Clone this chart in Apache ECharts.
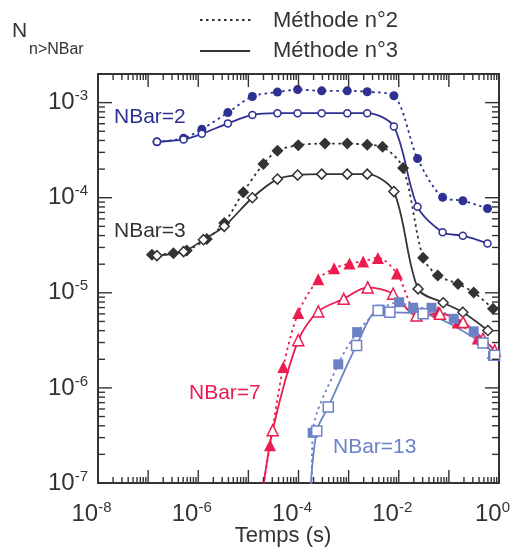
<!DOCTYPE html>
<html><head><meta charset="utf-8">
<script src="https://cdn.jsdelivr.net/npm/echarts@6/dist/echarts.min.js"></script>
<style>html,body{margin:0;padding:0;background:#fff}#c{width:511px;height:549px}</style>
</head><body><div id="c"></div>
<script>
// ---------- data (time in s, N_{n>NBar}) ----------
const xLabelExps = [-8, -6, -4, -2, 0];
const yLabelExps = [-7, -6, -5, -4, -3];
const legendNames = ['Méthode n°2', 'Méthode n°3'];
const curveLabels = ['NBar=2', 'NBar=3', 'NBar=7', 'NBar=13'];

const t2 = [1.5e-7, 5.1e-7, 1.18e-6, 3.9e-6, 1.2e-5, 3.8e-5, 9.6e-5, 2.9e-4, 9.4e-4, 2.35e-3, 8.0e-3, 2.37e-2, 7.5e-2, 0.19, 0.59];
const n2m2 = [3.87e-4, 4.23e-4, 5.26e-4, 7.85e-4, 1.16e-3, 1.29e-3, 1.37e-3, 1.33e-3, 1.33e-3, 1.30e-3, 1.18e-3, 2.58e-4, 1.01e-4, 9.3e-5, 7.7e-5];
const n2m3 = [3.87e-4, 4.1e-4, 4.70e-4, 6.05e-4, 7.43e-4, 7.74e-4, 7.74e-4, 7.74e-4, 7.74e-4, 7.74e-4, 5.60e-4, 8.05e-5, 4.33e-5, 3.99e-5, 3.31e-5];

const t3m2 = [1.19e-7, 3.2e-7, 5.9e-7, 1.48e-6, 3.3e-6, 7.9e-6, 1.99e-5, 3.8e-5, 9.9e-5, 3.37e-4, 9.4e-4, 2.35e-3, 4.75e-3, 1.22e-2, 3.06e-2, 6.0e-2, 0.152, 0.313, 0.76];
const n3m2 = [2.52e-5, 2.61e-5, 2.78e-5, 3.69e-5, 5.42e-5, 1.14e-4, 2.26e-4, 3.11e-4, 3.57e-4, 3.71e-4, 3.71e-4, 3.60e-4, 3.43e-4, 2.05e-4, 2.34e-5, 1.52e-5, 1.24e-5, 1.01e-5, 6.79e-6];
const t3m3 = [1.5e-7, 5.1e-7, 1.27e-6, 3.3e-6, 1.2e-5, 3.8e-5, 9.6e-5, 2.9e-4, 9.4e-4, 2.35e-3, 8.0e-3, 2.43e-2, 7.7e-2, 0.19, 0.60];
const n3m3 = [2.46e-5, 2.71e-5, 3.62e-5, 5.0e-5, 1.0e-4, 1.57e-4, 1.73e-4, 1.77e-4, 1.77e-4, 1.77e-4, 1.16e-4, 1.10e-5, 7.85e-6, 6.26e-6, 4.02e-6];

const t7m2 = [1.82e-5, 2.7e-5, 4.98e-5, 9.9e-5, 2.48e-4, 5.14e-4, 1.04e-3, 1.95e-3, 3.84e-3, 9.2e-3, 2.43e-2, 6.1e-2, 0.150, 0.377, 0.75];
const n7m2 = [7e-8, 2.5e-7, 1.66e-6, 6.14e-6, 1.39e-5, 1.81e-5, 2.03e-5, 2.14e-5, 2.33e-5, 1.60e-5, 6.21e-6, 6.32e-6, 4.88e-6, 3.31e-6, 2.33e-6];
const t7m3 = [1.78e-5, 3.06e-5, 9.9e-5, 2.48e-4, 7.98e-4, 2.40e-3, 7.73e-3, 2.26e-2, 6.6e-2, 0.192, 0.48, 0.82];
const n7m3 = [6e-8, 3.59e-7, 3.18e-6, 6.37e-6, 8.65e-6, 1.14e-5, 9.77e-6, 5.78e-6, 6.02e-6, 4.92e-6, 3.29e-6, 2.48e-6];

const t13m2 = [1.82e-4, 1.92e-4, 6.21e-4, 1.48e-3, 4.21e-3, 1.02e-2, 1.94e-2, 4.5e-2, 0.125, 0.313, 0.76];
const n13m2 = [6e-8, 3.37e-7, 1.77e-6, 3.86e-6, 6.64e-6, 7.97e-6, 6.96e-6, 6.96e-6, 5.33e-6, 3.93e-6, 2.17e-6];
const t13m3 = [1.66e-4, 2.31e-4, 3.93e-4, 1.44e-3, 3.89e-3, 6.65e-3, 3.06e-2, 0.48, 0.82];
const n13m3 = [6e-8, 3.53e-7, 6.31e-7, 2.80e-6, 6.52e-6, 6.25e-6, 6.03e-6, 2.96e-6, 2.20e-6];

// ---------- styling ----------
const FONT = 'Liberation Sans, Arial, sans-serif';
const AX = '#333333';
const C2 = '#2E3192', C3 = '#333333', C7 = '#EC1C4F', C13 = '#6B82C6';
const DOT = [2.5, 3.5];
const X_MIN = 1e-8, X_MAX = 1, Y_MIN = 1e-7, Y_MAX = 2e-3;
const GRID = { left: 98, right: 12, top: 74, bottom: 66 };
const W = 511, H = 549;

function pairs(t, v) { return t.map((x, i) => [x, v[i]]); }
function ser(t, v, color, method, symbol, size) {
  const filled = method === 2;
  return {
    type: 'line', data: pairs(t, v), xAxisIndex: 0, yAxisIndex: 0,
    smooth: 0.3, clip: true, symbol, symbolSize: size, showSymbol: true,
    lineStyle: { color, width: 1.8, type: filled ? DOT : 'solid' },
    itemStyle: { color: filled ? color : '#fff', borderColor: color, borderWidth: filled ? 0 : 1.5 }
  };
}
function labelFmt(list, spacer) {
  return function (v) {
    const l = Math.log10(v), e = Math.round(l);
    if (Math.abs(l - e) > 1e-6 || list.indexOf(e) < 0) return '';
    return '{b|10}{e|' + e + '}' + (spacer ? '{s|}' : '');
  };
}
const rich = {
  b: { fontSize: 24, lineHeight: 28, fontFamily: FONT, color: AX },
  e: { fontSize: 15, lineHeight: 14, fontFamily: FONT, color: AX, verticalAlign: 'top' },
  s: { width: 13, lineHeight: 14 }
};
function axisDef(min, max, position, label) {
  return {
    type: 'log', logBase: 10, interval: 1, min, max, position,
    axisLine: { show: true, lineStyle: { color: AX, width: 2 } },
    axisTick: { show: false },
    splitLine: { show: false },
    axisLabel: label || { show: false }
  };
}

const chart = echarts.init(document.getElementById('c'), null, { renderer: 'canvas' });
chart.setOption({
  animation: false,
  grid: Object.assign({ outerBoundsMode: 'none' }, GRID),
  xAxis: [
    axisDef(X_MIN, X_MAX, 'bottom', { show: true, margin: 17, formatter: labelFmt(xLabelExps, true), rich }),
    axisDef(X_MIN, X_MAX, 'top')
  ],
  yAxis: [
    axisDef(Y_MIN, Y_MAX, 'left', { show: true, margin: 10, formatter: labelFmt(yLabelExps, false), rich }),
    axisDef(Y_MIN, Y_MAX, 'right')
  ],
  series: [
    ser(t2, n2m2, C2, 2, 'circle', 9),
    ser(t2, n2m3, C2, 3, 'circle', 7),
    ser(t3m2, n3m2, C3, 2, 'diamond', 12),
    ser(t3m3, n3m3, C3, 3, 'diamond', 10),
    ser(t7m2, n7m2, C7, 2, 'triangle', 12),
    ser(t7m3, n7m3, C7, 3, 'triangle', 11),
    ser(t13m2, n13m2, C13, 2, 'rect', 10),
    ser(t13m3, n13m3, C13, 3, 'rect', 10)
  ]
});

// ---------- pixel mapping: library first, log mapping of the grid as a fallback ----------
const gx0 = GRID.left, gx1 = W - GRID.right, gy0 = H - GRID.bottom, gy1 = GRID.top;
function num(r) { if (Array.isArray(r)) r = r[0]; return (typeof r === 'number' && isFinite(r)) ? r : NaN; }
function px(v) {
  let r = NaN;
  try { r = chart.convertToPixel({ gridIndex: 0 }, [v, Y_MIN]); r = Array.isArray(r) ? r[0] : NaN; } catch (e) { r = NaN; }
  if (!isFinite(r)) { try { r = num(chart.convertToPixel({ xAxisIndex: 0 }, v)); } catch (e) { r = NaN; } }
  if (!isFinite(r)) r = gx0 + (Math.log10(v) - Math.log10(X_MIN)) / (Math.log10(X_MAX) - Math.log10(X_MIN)) * (gx1 - gx0);
  return r;
}
function py(v) {
  let r = NaN;
  try { r = chart.convertToPixel({ gridIndex: 0 }, [X_MIN, v]); r = Array.isArray(r) ? r[1] : NaN; } catch (e) { r = NaN; }
  if (!isFinite(r)) { try { r = num(chart.convertToPixel({ yAxisIndex: 0 }, v)); } catch (e) { r = NaN; } }
  if (!isFinite(r)) r = gy0 + (Math.log10(v) - Math.log10(Y_MIN)) / (Math.log10(Y_MAX) - Math.log10(Y_MIN)) * (gy1 - gy0);
  return r;
}
const xl = px(X_MIN), xr = px(X_MAX), yb = py(Y_MIN), yt = py(Y_MAX);
const g = [];
function bar(x, y, w, h) {
  g.push({ type: 'rect', z: 50, shape: { x, y, width: w, height: h }, style: { fill: AX } });
}
function vTick(x, len) { bar(x - 0.7, yb - len, 1.4, len); bar(x - 0.7, yt, 1.4, len); }
function hTick(y, len) { bar(xl, y - 0.7, len, 1.4); bar(xr - len, y - 0.7, len, 1.4); }
for (let d = -8; d <= 0; d++) {
  vTick(px(Math.pow(10, d)), 13);
  if (d === 0) break;
  for (let k = 2; k <= 9; k++) vTick(px(k * Math.pow(10, d)), 6);
}
for (let d = -7; d <= -3; d++) {
  hTick(py(Math.pow(10, d)), 14);
  for (let k = 2; k <= 9; k++) {
    const val = k * Math.pow(10, d);
    if (val < Y_MAX) hTick(py(val), 7);
  }
}
// legend samples
for (let x = 200; x < 250; x += DOT[0] + DOT[1]) bar(x, 19, DOT[0], 2);
bar(200, 50, 50, 2);
function txt(text, x, y, size, color, align) {
  g.push({ type: 'text', z: 60, x, y,
    style: { text, fontSize: size, fontFamily: FONT, fill: color, align: align || 'left', verticalAlign: 'middle' } });
}
txt(legendNames[0], 273, 21, 22, AX);
txt(legendNames[1], 273, 51, 22, AX);
txt('N', 12, 31, 21, AX);
txt('n>NBar', 29, 50, 16, AX);
txt('Temps (s)', 283, 536, 22, AX, 'center');
txt(curveLabels[0], 114, 117, 21, C2);
txt(curveLabels[1], 114, 231, 21, C3);
txt(curveLabels[2], 189, 393, 21, C7);
txt(curveLabels[3], 333, 447, 21, C13);
chart.setOption({ graphic: g });
</script>
</body></html>
